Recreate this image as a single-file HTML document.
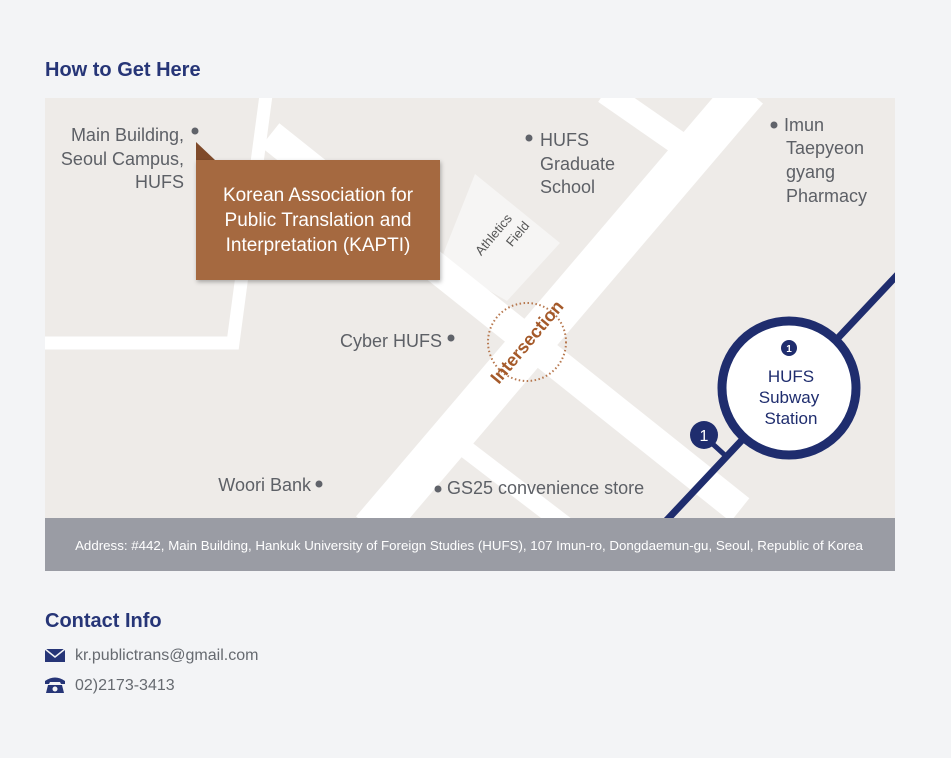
<!DOCTYPE html>
<html><head><meta charset="utf-8"><style>
html,body{margin:0;padding:0;background:#f3f4f6;width:951px;height:758px;overflow:hidden;font-family:"Liberation Sans",sans-serif;}
h2{position:absolute;left:45px;margin:0;color:#263577;font-size:20px;font-weight:bold;}
.c{position:absolute;left:75px;color:#666a70;font-size:16px;}
</style></head><body>
<h2 style="top:59px">How to Get Here</h2>
<svg style="position:absolute;left:0;top:0" width="951" height="758" font-family="Liberation Sans, sans-serif">
<defs>
<clipPath id="m"><rect x="45" y="98" width="850" height="420"/></clipPath>
<filter id="sh" x="-10%" y="-10%" width="130%" height="130%"><feDropShadow dx="1" dy="2" stdDeviation="2" flood-opacity="0.3"/></filter>
</defs>
<g clip-path="url(#m)">
<rect x="45" y="98" width="850" height="420" fill="#eeebe8"/>
<polygon points="475,174 560,243 507,301 440,262" fill="#f6f5f4"/>
<g stroke="#fff" fill="none">
<polyline points="266,95 233,343 40,343" stroke-width="13"/>
<line x1="270" y1="135" x2="740" y2="510" stroke-width="30"/>
<line x1="372" y1="530" x2="747" y2="90" stroke-width="42"/>
<line x1="605" y1="92" x2="700" y2="158" stroke-width="24"/>
<line x1="450" y1="437" x2="565" y2="525" stroke-width="18"/>
</g>
<circle cx="527" cy="342" r="39" fill="none" stroke="#b7784f" stroke-width="2" stroke-dasharray="1.5 2.5"/>
<text x="527" y="348" transform="rotate(-50 527 342)" text-anchor="middle" font-size="18" font-weight="bold" fill="#a55a2a">Intersection</text>
<text transform="translate(500,240) rotate(-50)" text-anchor="middle" font-size="13" fill="#555"><tspan x="0" y="-4">Athletics</tspan><tspan x="16" y="14">Field</tspan></text>
<line x1="665" y1="522" x2="900" y2="272" stroke="#1f2d6e" stroke-width="7"/>
<line x1="704" y1="436" x2="728" y2="458" stroke="#1f2d6e" stroke-width="5"/>
<circle cx="789" cy="388" r="67" fill="#fff" stroke="#1f2d6e" stroke-width="9"/>
<circle cx="789" cy="348" r="8" fill="#1f2d6e"/>
<text x="789" y="352" text-anchor="middle" font-size="10" fill="#fff" font-weight="bold">1</text>
<circle cx="704" cy="435" r="14" fill="#1f2d6e"/>
<text x="704" y="441" text-anchor="middle" font-size="16" fill="#fff">1</text>
<g font-size="17" fill="#1f2d6e" text-anchor="middle"><text x="791" y="382">HUFS</text><text x="789" y="403">Subway</text><text x="791" y="424">Station</text></g>
<g font-size="18" fill="#5d6066">
<text x="184" y="141" text-anchor="end">Main Building,</text>
<text x="184" y="165" text-anchor="end">Seoul Campus,</text>
<text x="184" y="188" text-anchor="end">HUFS</text>
<text x="540" y="146">HUFS</text><text x="540" y="170">Graduate</text><text x="540" y="193">School</text>
<text x="784" y="131">Imun</text><text x="786" y="154">Taepyeon</text><text x="786" y="178">gyang</text><text x="786" y="202">Pharmacy</text>
<text x="442" y="347" text-anchor="end">Cyber HUFS</text>
<text x="311" y="491" text-anchor="end">Woori Bank</text>
<text x="447" y="494">GS25 convenience store</text>
</g>
<g fill="#60636a"><circle cx="195" cy="131" r="3.5"/><circle cx="529" cy="138" r="3.5"/><circle cx="774" cy="125" r="3.5"/><circle cx="451" cy="338" r="3.5"/><circle cx="319" cy="484" r="3.5"/><circle cx="438" cy="489" r="3.5"/></g>
<polygon points="196,142 215,160 196,160" fill="#7f4a2a"/>
<rect x="196" y="160" width="244" height="120" fill="#a5693f" filter="url(#sh)"/>
<g font-size="19" fill="#fff" text-anchor="middle"><text x="318" y="201">Korean Association for</text><text x="318" y="226">Public Translation and</text><text x="318" y="251">Interpretation (KAPTI)</text></g>
</g>
<rect x="45" y="518" width="850" height="53" fill="#9a9ca4"/>
<text x="469" y="550" text-anchor="middle" font-size="13.3" fill="#fff">Address: #442, Main Building, Hankuk University of Foreign Studies (HUFS), 107 Imun-ro, Dongdaemun-gu, Seoul, Republic of Korea</text>
<rect x="45" y="649" width="20" height="13" fill="#263577"/>
<polyline points="45,649 55,657 65,649" fill="none" stroke="#f3f4f6" stroke-width="1.5"/>
<path d="M45,681 Q55,674 65,681 L65,684 L61,684 L60,682 L50,682 L49,684 L45,684Z M48,685 L62,685 L64,693 L46,693Z" fill="#263577"/>
<circle cx="55" cy="689" r="2.5" fill="#f3f4f6"/>
</svg>
<h2 style="top:610px">Contact Info</h2>
<div class="c" style="top:647px">kr.publictrans@gmail.com</div>
<div class="c" style="top:677px">02)2173-3413</div>
</body></html>
